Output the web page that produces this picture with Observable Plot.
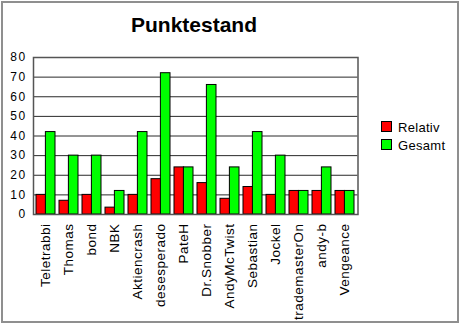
<!DOCTYPE html>
<html>
<head>
<meta charset="utf-8">
<script src="https://cdn.jsdelivr.net/npm/d3@7"></script>
<script src="https://cdn.jsdelivr.net/npm/@observablehq/plot@0.6"></script>
<style>
  html, body { margin: 0; padding: 0; background: #fff; }
  #wrap { position: relative; width: 461px; height: 325px; overflow: hidden; font-family: "Liberation Sans", Arial, sans-serif; }
  #border { position: absolute; left: 1px; top: 1px; width: 458px; height: 322px; box-sizing: border-box; border: 2px solid #8f8f8f; }
  #title { position: absolute; left: 0; width: 388px; top: 14px; text-align: center; font-weight: bold; font-size: 21px; line-height: 21px; color: #000; }
  #chart { position: absolute; left: 0; top: 40px; }
  .legend { position: absolute; left: 381px; font-size: 13px; line-height: 13px; color: #000; }
  .legend .sw { position: absolute; left: 0; top: 0; width: 11px; height: 11px; box-sizing: border-box; border: 1px solid #000; }
  .legend .lb { position: absolute; left: 17px; top: 0; white-space: nowrap; letter-spacing: 0.3px; }
  #chart g[aria-label^="y-axis"] text { font-size: 12px; letter-spacing: 1.4px; }
  #chart g[aria-label^="x-axis"] text { font-size: 13.5px; letter-spacing: 0.5px; }
</style>
</head>
<body>
<div id="wrap">
  <div id="border"></div>
  <div id="title">Punktestand</div>
  <div id="chart"></div>
</div>
<script>
// Spieler und Punkte
const names = ["Teletrabbi", "Thomas", "bond", "NBK", "Aktiencrash", "desesperado", "PateH",
  "Dr.Snobber", "AndyMcTwist", "Sebastian", "Jockel", "trademasterOn", "andy-b", "Vengeance"];
const relativ = [10, 7, 10, 3.5, 10, 18, 24, 16, 8, 14, 10, 12, 12, 12];
const gesamt = [42, 30, 30, 12, 42, 72, 24, 66, 24, 42, 30, 12, 24, 12];
const yTicks = [0, 10, 20, 30, 40, 50, 60, 70, 80];
const series = ["Relativ", "Gesamt"];
const colors = ["#ff0000", "#00ff00"];

const relRows = names.map((name, i) => ({name, value: relativ[i]}));
const gesRows = names.map((name, i) => ({name, value: gesamt[i]}));

const W = 461, H = 285;
const mL = 33, mR = 103.5, mT = 17, mB = 111;
const padIn = 0.19, padOut = 0.095;
const step = (W - mL - mR) / (names.length - padIn + 2 * padOut);
const half = step * (1 - padIn) / 2;

const chart = Plot.plot({
  width: W,
  height: H,
  marginLeft: mL,
  marginRight: mR,
  marginTop: mT,
  marginBottom: mB,
  style: {fontFamily: "'Liberation Sans', Arial, sans-serif", color: "#000", background: "transparent"},
  x: {domain: names, paddingInner: padIn, paddingOuter: padOut, tickRotate: -90, tickSize: 0, tickPadding: 9, label: null},
  y: {domain: [0, 80], ticks: yTicks, tickSize: 0, tickPadding: 7, label: null},
  marks: [
    Plot.ruleY(yTicks.slice(1, -1), {stroke: "#2a2a2a", strokeWidth: 1}),
    Plot.barY(relRows, {x: "name", y: "value", fill: colors[0], stroke: "#000", strokeWidth: 1, insetRight: half}),
    Plot.barY(gesRows, {x: "name", y: "value", fill: colors[1], stroke: "#000", strokeWidth: 1, insetLeft: half}),
    Plot.frame({stroke: "#555", strokeWidth: 1.5})
  ]
});
document.getElementById("chart").appendChild(chart);

// Legende
const wrap = document.getElementById("wrap");
const legendTops = [121, 139];
series.forEach((s, i) => {
  const item = document.createElement("div");
  item.className = "legend";
  item.style.top = legendTops[i] + "px";
  const sw = document.createElement("div");
  sw.className = "sw";
  sw.style.background = colors[i];
  const lb = document.createElement("div");
  lb.className = "lb";
  lb.style.top = "-0.5px";
  lb.textContent = s;
  item.appendChild(sw);
  item.appendChild(lb);
  wrap.appendChild(item);
});
</script>
</body>
</html>
